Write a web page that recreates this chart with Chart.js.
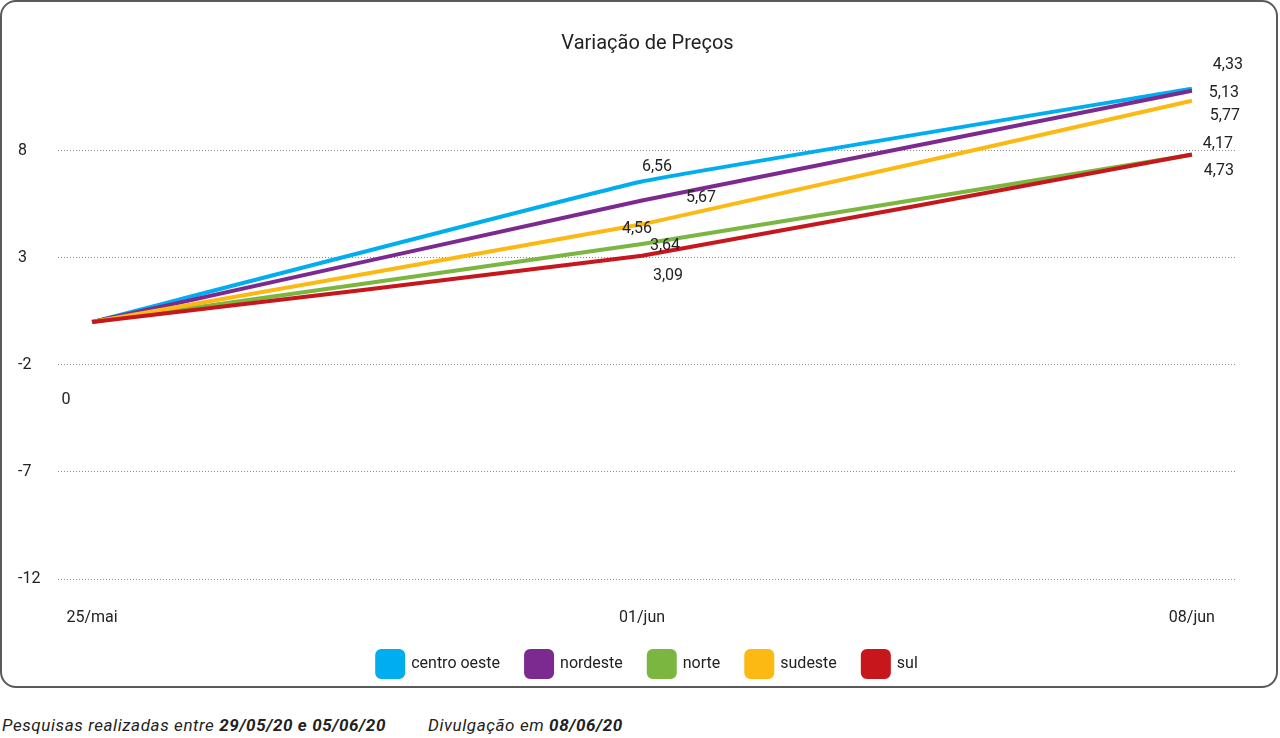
<!DOCTYPE html>
<html lang="pt-BR">
<head>
<meta charset="utf-8">
<title>Variação de Preços</title>
<script src="https://cdn.jsdelivr.net/npm/chart.js@4.4.1/dist/chart.umd.min.js"></script>
<style>
    body { margin: 0; background: #fff; font-family: Roboto, "DejaVu Sans", sans-serif; }
    .frame {
        position: absolute; left: 0; top: 0;
        width: 1274px; height: 684px;
        border: 2px solid #5a5a5a; border-radius: 16px;
    }
    #wrap { position: absolute; left: 2px; top: 2px; width: 1274px; height: 685px; }
    .footer {
        position: absolute; left: 2px; top: 715px;
        font-size: 17px; font-style: italic; letter-spacing: 0.6px; color: #222;
        white-space: nowrap;
    }
    .footer b { font-weight: 700; }
    .footer .gap { display: inline-block; width: 42px; }
</style>
</head>
<body>
<div class="frame"></div>
<div id="wrap"><canvas id="priceChart"></canvas></div>
<div class="footer">Pesquisas realizadas entre <b>29/05/20 e 05/06/20</b><span class="gap"></span>Divulgação em <b>08/06/20</b></div>

<script>
// categorias (semanas)
const categories = ['25/mai', '01/jun', '08/jun'];
const yTicks = [-12, -7, -2, 3, 8];

// variação acumulada (posição das linhas)
const centroOeste = [0, 6.56, 10.89];
const nordeste = [0, 5.67, 10.80];
const norte = [0, 3.64, 7.81];
const sudeste = [0, 4.56, 10.33];
const sul = [0, 3.09, 7.82];

// rótulos mostrados em cada ponto (variação da semana)
const centroOesteLabels = ['0', '6,56', '4,33'];
const nordesteLabels = ['', '5,67', '5,13'];
const norteLabels = ['', '3,64', '4,17'];
const sudesteLabels = ['', '4,56', '5,77'];
const sulLabels = ['', '3,09', '4,73'];

const seriesNames = ['centro oeste', 'nordeste', 'norte', 'sudeste', 'sul'];
const seriesData = [centroOeste, nordeste, norte, sudeste, sul];
const seriesLabels = [centroOesteLabels, nordesteLabels, norteLabels, sudesteLabels, sulLabels];
const colors = ['#00aeef', '#7d2a90', '#7ab640', '#fdb913', '#c8161d'];

// deslocamento dos rótulos em px (dx, dy) por ponto
const labelOffsets = [
    [[-26, 78], [15, -15], [36, -24]],
    [[0, 0], [59, -3], [32, 2]],
    [[0, 0], [23, 2], [26, -11]],
    [[0, 0], [-5, 5], [33, 15]],
    [[0, 0], [26, 20], [27, 16]]
];

const pointLabels = {
    id: 'pointLabels',
    afterDatasetsDraw(chart) {
        const ctx = chart.ctx;
        ctx.save();
        ctx.font = '16px Roboto, sans-serif';
        ctx.fillStyle = '#222';
        ctx.textAlign = 'center';
        ctx.textBaseline = 'middle';
        chart.data.datasets.forEach((ds, i) => {
            const meta = chart.getDatasetMeta(i);
            meta.data.forEach((pt, j) => {
                const txt = seriesLabels[i][j];
                if (!txt) return;
                const off = labelOffsets[i][j];
                ctx.fillText(txt, pt.x + off[0], pt.y + off[1]);
            });
        });
        ctx.restore();
    }
};

const datasets = seriesNames.map((name, i) => ({
    label: name,
    data: seriesData[i].map((v, j) => ({ x: j, y: v })),
    borderColor: colors[i],
    backgroundColor: colors[i],
    borderWidth: 4,
    pointRadius: 0,
    tension: 0.08,
    fill: false,
    order: seriesNames.length - i
}));

const ctx = document.getElementById('priceChart').getContext('2d');
new Chart(ctx, {
    type: 'line',
    data: { datasets: datasets },
    plugins: [pointLabels],
    options: {
        responsive: true,
        maintainAspectRatio: false,
        animation: false,
        layout: { padding: { left: 16, right: 39, top: 0, bottom: 0 } },
        plugins: {
            title: {
                display: true,
                text: 'Variação de Preços',
                fullSize: false,
                color: '#222',
                font: { family: 'Roboto', size: 20, weight: 'normal' },
                padding: { top: 30, bottom: 9 }
            },
            legend: {
                position: 'bottom',
                fullSize: false,
                labels: {
                    boxWidth: 26,
                    boxHeight: 26,
                    useBorderRadius: true,
                    borderRadius: 4,
                    padding: 26,
                    color: '#222',
                    font: { family: 'Roboto', size: 16 },
                    sort: (a, b) => a.datasetIndex - b.datasetIndex
                }
            },
            tooltip: { enabled: false }
        },
        scales: {
            x: {
                type: 'linear',
                min: -0.062,
                max: 2.082,
                afterBuildTicks: (scale) => { scale.ticks = categories.map((c, i) => ({ value: i })); },
                afterFit: (scale) => { scale.height = 46; },
                grid: { display: false, drawTicks: false },
                border: { display: false },
                ticks: {
                    padding: 29,
                    color: '#222',
                    font: { family: 'Roboto', size: 16 },
                    callback: (v) => categories[v]
                }
            },
            y: {
                min: -12,
                max: 12,
                afterBuildTicks: (scale) => { scale.ticks = yTicks.map(v => ({ value: v })); },
                afterFit: (scale) => { scale.width = 40; },
                grid: {
                    color: '#8a8a8a',
                    lineWidth: 1,
                    drawTicks: false
                },
                border: { display: false, dash: [1, 2] },
                ticks: {
                    crossAlign: 'far',
                    color: '#222',
                    font: { family: 'Roboto', size: 16 }
                }
            }
        }
    }
});
</script>
</body>
</html>
